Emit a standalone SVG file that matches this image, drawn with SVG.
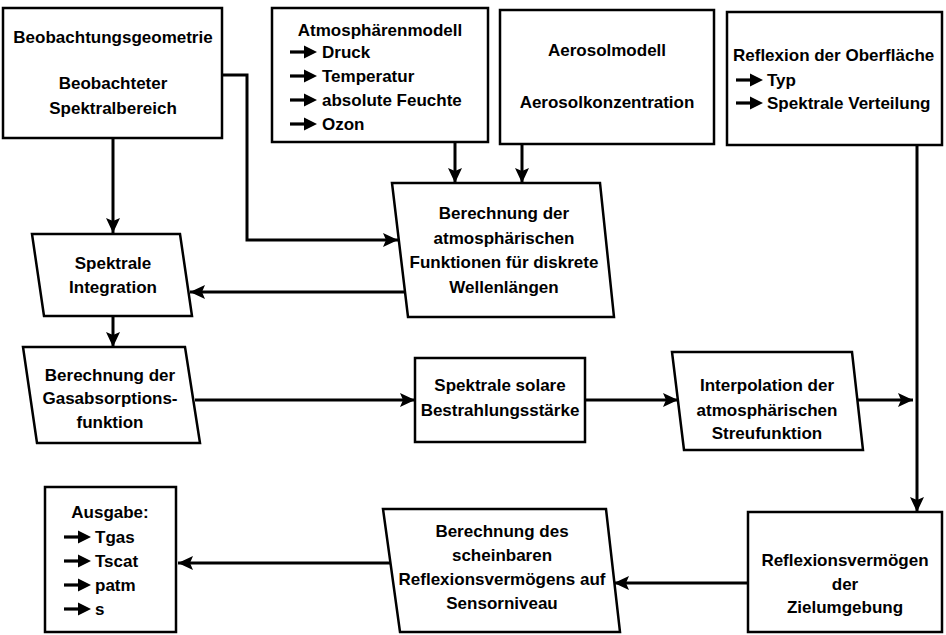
<svg xmlns="http://www.w3.org/2000/svg" xmlns:xlink="http://www.w3.org/1999/xlink" width="946" height="635" viewBox="0 0 946 635">
<style>
.box{fill:#fff;stroke:#000;stroke-width:2.5;stroke-linejoin:miter}
.t{font-family:"Liberation Sans",Arial,sans-serif;font-weight:bold;font-size:17px;fill:#000}
.c{text-anchor:middle}
.con{fill:none;stroke:#000;stroke-width:3;marker-end:url(#ah)}
</style>
<defs>
<marker id="ah" markerUnits="userSpaceOnUse" markerWidth="16" markerHeight="16" refX="15" refY="7" orient="auto">
<path d="M0,0 L15,7 L0,14 L3,7 Z" fill="#000"/>
</marker>
<g id="ba"><path d="M0,0 H17" stroke="#000" stroke-width="3.2"/><path d="M14,-6.5 L27,0 L14,6.5 Z" fill="#000"/></g>
</defs>
<rect width="946" height="635" fill="#fff"/>

<g id="connectors">
<polyline class="con" points="222,75 247,75 247,240 398,240"/>
<line class="con" x1="113" y1="138" x2="113" y2="233"/>
<line class="con" x1="455" y1="142" x2="455" y2="183"/>
<line class="con" x1="522" y1="144" x2="522" y2="183"/>
<line class="con" x1="405" y1="292" x2="190" y2="292"/>
<line class="con" x1="113" y1="316" x2="113" y2="347"/>
<line class="con" x1="195" y1="400" x2="415" y2="400"/>
<line class="con" x1="585" y1="400" x2="678" y2="400"/>
<line class="con" x1="857" y1="400" x2="913" y2="400"/>
<line class="con" x1="917" y1="145" x2="917" y2="512"/>
<line class="con" x1="748" y1="583" x2="614" y2="583"/>
<line class="con" x1="391" y1="563" x2="178" y2="563"/>
</g>

<g id="n1">
<rect class="box" x="3" y="8" width="219" height="130"/>
<text class="t c" x="113" y="43">Beobachtungsgeometrie</text>
<text class="t c" x="113" y="89">Beobachteter</text>
<text class="t c" x="113" y="114">Spektralbereich</text>
</g>

<g id="n2">
<rect class="box" x="272" y="8" width="216" height="134"/>
<text class="t c" x="380" y="36">Atmosphärenmodell</text>
<use xlink:href="#ba" x="290" y="52"/>
<text class="t" x="322" y="58">Druck</text>
<use xlink:href="#ba" x="290" y="76"/>
<text class="t" x="322" y="82">Temperatur</text>
<use xlink:href="#ba" x="290" y="100"/>
<text class="t" x="322" y="106">absolute Feuchte</text>
<use xlink:href="#ba" x="290" y="124"/>
<text class="t" x="322" y="130">Ozon</text>
</g>

<g id="n3">
<rect class="box" x="500" y="10" width="214" height="134"/>
<text class="t c" x="607" y="56">Aerosolmodell</text>
<text class="t c" x="607" y="108">Aerosolkonzentration</text>
</g>

<g id="n4">
<rect class="box" x="727" y="12" width="215" height="133"/>
<text class="t" x="733" y="61">Reflexion der Oberfläche</text>
<use xlink:href="#ba" x="736" y="80"/>
<text class="t" x="767" y="86">Typ</text>
<use xlink:href="#ba" x="736" y="103"/>
<text class="t" x="767" y="109">Spektrale Verteilung</text>
</g>

<g id="n5">
<polygon class="box" points="392,183 600,183 614,317 408,317"/>
<text class="t c" x="504" y="219">Berechnung der</text>
<text class="t c" x="504" y="244">atmosphärischen</text>
<text class="t c" x="504" y="268">Funktionen für diskrete</text>
<text class="t c" x="504" y="293">Wellenlängen</text>
</g>

<g id="n6">
<polygon class="box" points="32,234 180,234 192,316 44,316"/>
<text class="t c" x="113" y="269">Spektrale</text>
<text class="t c" x="113" y="293">Integration</text>
</g>

<g id="n7">
<polygon class="box" points="23,347 185,347 200,443 37,443"/>
<text class="t c" x="110" y="381">Berechnung der</text>
<text class="t c" x="110" y="404">Gasabsorptions-</text>
<text class="t c" x="110" y="428">funktion</text>
</g>

<g id="n8">
<rect class="box" x="415" y="358" width="170" height="84"/>
<text class="t c" x="500" y="391">Spektrale solare</text>
<text class="t c" x="500" y="416">Bestrahlungsstärke</text>
</g>

<g id="n9">
<polygon class="box" points="672,352 852,352 863,450 684,450"/>
<text class="t c" x="767" y="391">Interpolation der</text>
<text class="t c" x="767" y="416">atmosphärischen</text>
<text class="t c" x="767" y="439">Streufunktion</text>
</g>

<g id="n10">
<rect class="box" x="748" y="512" width="194" height="120"/>
<text class="t c" x="845" y="566">Reflexionsvermögen</text>
<text class="t c" x="845" y="590">der</text>
<text class="t c" x="845" y="613">Zielumgebung</text>
</g>

<g id="n11">
<polygon class="box" points="383,509 606,509 620,632 400,632"/>
<text class="t c" x="502" y="537">Berechnung des</text>
<text class="t c" x="502" y="561">scheinbaren</text>
<text class="t c" x="502" y="585">Reflexionsvermögens auf</text>
<text class="t c" x="502" y="609">Sensorniveau</text>
</g>

<g id="n12">
<rect class="box" x="45" y="487" width="131" height="145"/>
<text class="t c" x="110" y="518">Ausgabe:</text>
<use xlink:href="#ba" x="64" y="537"/>
<text class="t" x="95" y="543">Tgas</text>
<use xlink:href="#ba" x="64" y="561"/>
<text class="t" x="95" y="567">Tscat</text>
<use xlink:href="#ba" x="64" y="585"/>
<text class="t" x="95" y="591">patm</text>
<use xlink:href="#ba" x="64" y="609"/>
<text class="t" x="95" y="615">s</text>
</g>
</svg>
